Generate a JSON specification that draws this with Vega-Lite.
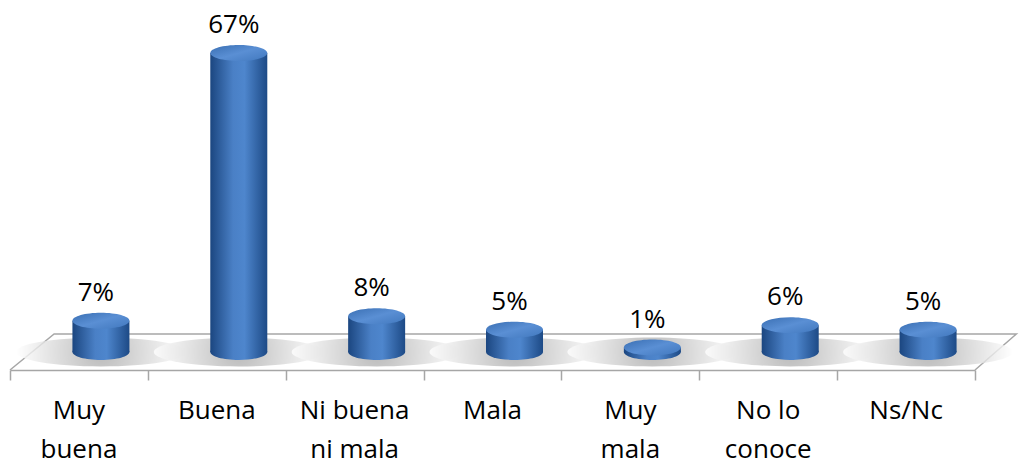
{
  "$schema": "https://vega.github.io/schema/vega-lite/v6.json",
  "width": 965,
  "height": 370,
  "autosize": {"type": "none"},
  "padding": {"left": 10, "right": 46, "top": 0, "bottom": 95},
  "background": "white",
  "config": {"view": {"stroke": null}, "font": "Open Sans"},
  "datasets": {
    "survey": [
      {"cat": "Muy buena", "pct": 7},
      {"cat": "Buena", "pct": 67},
      {"cat": "Ni buena ni mala", "pct": 8},
      {"cat": "Mala", "pct": 5},
      {"cat": "Muy mala", "pct": 1},
      {"cat": "No lo conoce", "pct": 6},
      {"cat": "Ns/Nc", "pct": 5}
    ],
    "floor": [
      {"fx": 0, "fy": -4.04, "o": 1},
      {"fx": 0.32, "fy": 4.04, "o": 2},
      {"fx": 7.3, "fy": 4.04, "o": 3},
      {"fx": 7, "fy": -4.04, "o": 4}
    ]
  },
  "layer": [
    {
      "data": {"name": "floor"},
      "mark": {"type": "line", "color": "#a6a6a6", "strokeWidth": 1.5},
      "encoding": {
        "x": {"field": "fx", "type": "quantitative", "scale": {"domain": [0, 7], "nice": false},
          "axis": {"orient": "bottom", "values": [0, 1, 2, 3, 4, 5, 6, 7], "labels": false, "tickSize": 10, "tickColor": "#a6a6a6", "tickWidth": 1.5, "domainColor": "#a6a6a6", "domainWidth": 1.5, "grid": false, "title": null}},
        "y": {"field": "fy", "type": "quantitative", "scale": {"domain": [-4.04, 78.9], "nice": false, "zero": false}, "axis": null},
        "order": {"field": "o"}
      }
    },
    {
      "data": {"name": "survey"},
      "encoding": {
        "x": {"field": "cat", "type": "nominal", "sort": null,
          "scale": {"paddingInner": 0, "paddingOuter": 0},
          "axis": {"orient": "bottom", "title": null, "domain": false, "ticks": false, "labelFontSize": 26, "labelColor": "black", "labelLineHeight": 39, "labelPadding": 27, "labelAngle": 0, "labelBaseline": "top", "labelLimit": 0,
            "labelExpr": "datum.label == 'Ni buena ni mala' ? ['Ni buena', 'ni mala'] : datum.label == 'No lo conoce' ? ['No lo', 'conoce'] : split(datum.label, ' ')"}}
      },
      "layer": [
        {
          "mark": {"type": "point", "filled": true, "xOffset": 22, "size": 28900, "opacity": 0.8,
            "shape": "M-1,0A1,0.17,0,1,1,1,0A1,0.17,0,1,1,-1,0Z",
            "color": {"gradient": "radial", "x1": 0.5, "y1": 0.5, "r1": 0, "x2": 0.5, "y2": 0.5, "r2": 0.5,
              "stops": [{"offset": 0, "color": "#a8a8a8"}, {"offset": 0.4, "color": "#cccccc"}, {"offset": 1, "color": "#ffffff"}]}},
          "encoding": {"y": {"datum": 0, "type": "quantitative"}}
        },
        {
          "mark": {"type": "point", "filled": true, "xOffset": 22, "size": 3249, "opacity": 1,
            "shape": "M-1,0A1,0.28,0,1,1,1,0A1,0.28,0,1,1,-1,0Z",
            "color": {"gradient": "linear", "x1": 0, "x2": 1, "y1": 0, "y2": 0,
              "stops": [{"offset": 0, "color": "#1b4680"}, {"offset": 0.4, "color": "#4a80c6"}, {"offset": 0.6, "color": "#4e86cd"}, {"offset": 1, "color": "#1d4a86"}]}},
          "encoding": {"y": {"datum": 0, "type": "quantitative"}}
        },
        {
          "mark": {"type": "bar", "width": 57, "xOffset": 22,
            "color": {"gradient": "linear", "x1": 0, "x2": 1, "y1": 0, "y2": 0,
              "stops": [{"offset": 0, "color": "#1b4680"}, {"offset": 0.4, "color": "#4a80c6"}, {"offset": 0.6, "color": "#4e86cd"}, {"offset": 1, "color": "#1d4a86"}]}},
          "encoding": {
            "y": {"field": "pct", "type": "quantitative"},
            "y2": {"datum": 0}
          }
        },
        {
          "mark": {"type": "point", "filled": true, "xOffset": 22, "size": 3249, "opacity": 1,
            "shape": "M-1,0A1,0.28,0,1,1,1,0A1,0.28,0,1,1,-1,0Z",
            "color": {"gradient": "linear", "x1": 0, "x2": 1, "y1": 0, "y2": 1,
              "stops": [{"offset": 0, "color": "#3a6fb3"}, {"offset": 0.5, "color": "#5a8fd4"}, {"offset": 1, "color": "#4178be"}]}},
          "encoding": {"y": {"field": "pct", "type": "quantitative"}}
        },
        {
          "mark": {"type": "text", "xOffset": 17, "dy": -20, "baseline": "alphabetic", "fontSize": 26, "color": "black", "font": "Open Sans",
            "text": {"expr": "datum.pct + '%'"}},
          "encoding": {
            "y": {"field": "pct", "type": "quantitative"}
          }
        }
      ]
    }
  ],
  "resolve": {"scale": {"x": "independent"}}
}
